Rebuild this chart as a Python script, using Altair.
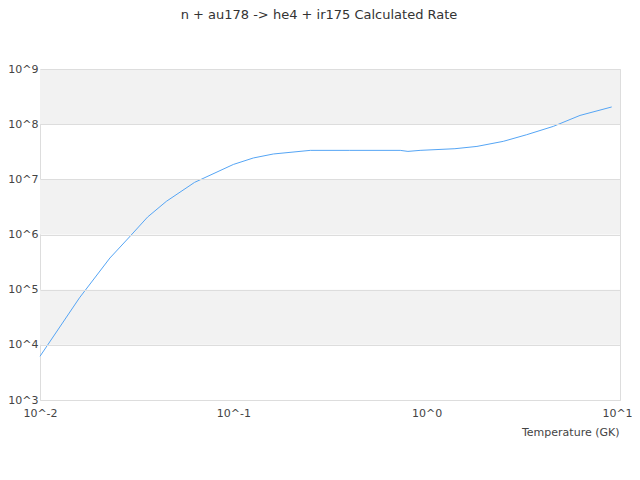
import altair as alt
import pandas as pd

# Temperature (GK) and calculated rate
temps = [0.01, 0.016, 0.023, 0.029, 0.036, 0.045, 0.063, 0.1, 0.127, 0.161,
         0.25, 0.4, 0.73, 0.8, 0.925, 1.4, 1.82, 2.49, 3.29, 4.52, 6.21, 9.06]
rates = [6.2e3, 7.1e4, 3.75e5, 9.0e5, 2.07e6, 3.98e6, 8.8e6, 1.86e7, 2.44e7, 2.88e7,
         3.35e7, 3.35e7, 3.35e7, 3.21e7, 3.35e7, 3.59e7, 3.95e7, 4.88e7, 6.44e7, 9.12e7,
         1.44e8, 2.05e8]

# alternating background bands (shaded decades)
band_lo = [1e8, 1e6, 1e4]
band_hi = [1e9, 1e7, 1e5]

x_ticks = [0.01, 0.1, 1, 10]
y_ticks = [1e3, 1e4, 1e5, 1e6, 1e7, 1e8, 1e9]

title_text = "n + au178 -> he4 + ir175 Calculated Rate"
x_title = "Temperature (GK)"

line_df = pd.DataFrame({"T": temps, "rate": rates})
band_df = pd.DataFrame({"lo": band_lo, "hi": band_hi})

xscale = alt.Scale(type="log", domain=[0.01, 10], nice=False)
yscale = alt.Scale(type="log", domain=[1e3, 1e9], nice=False)

label_expr = "'10^' + round(log(datum.value) / LN10)"

bands = alt.Chart(band_df).mark_rect(color="#f2f2f2").encode(
    x=alt.value(0),
    x2=alt.value(580),
    y=alt.Y("lo:Q", scale=yscale),
    y2="hi:Q",
)

line = alt.Chart(line_df).mark_line(color="#55a5f5", strokeWidth=1).encode(
    x=alt.X("T:Q", scale=xscale,
            axis=alt.Axis(values=x_ticks, labelExpr=label_expr, grid=False, ticks=False,
                          domain=False, labelPadding=7, labelFontSize=11,
                          labelColor="#444", title=x_title, titleFontSize=11,
                          titleFontWeight="normal", titleColor="#444",
                          titleAlign="right", titleAnchor="end", titleX=579, titleY=35,
                          titleBaseline="alphabetic", labelFlush=False,
                          labelOffset={"condition": {"test": "datum.value >= 10", "value": -3},
                                       "value": 0})),
    y=alt.Y("rate:Q", scale=yscale,
            axis=alt.Axis(values=y_ticks, labelExpr=label_expr, grid=True, gridColor="#dddddd",
                          ticks=False, domain=False, labelPadding=2, labelFontSize=11,
                          labelColor="#444", title=None, zindex=1, labelBaseline="middle")),
)

chart = alt.layer(bands, line).properties(
    width=580,
    height=331,
    autosize=alt.AutoSizeParams(type="none"),
    padding={"left": 32, "top": 61, "right": 12, "bottom": 70},
    title=alt.TitleParams(title_text, fontSize=13, font="DejaVu Sans", color="#333",
                          fontWeight="normal", anchor="middle", dx=-11, offset=41),
).configure(font="DejaVu Sans").configure_view(stroke="#dddddd", strokeWidth=1)

chart.save("out.html", embed_options={"renderer": "svg", "actions": False})
